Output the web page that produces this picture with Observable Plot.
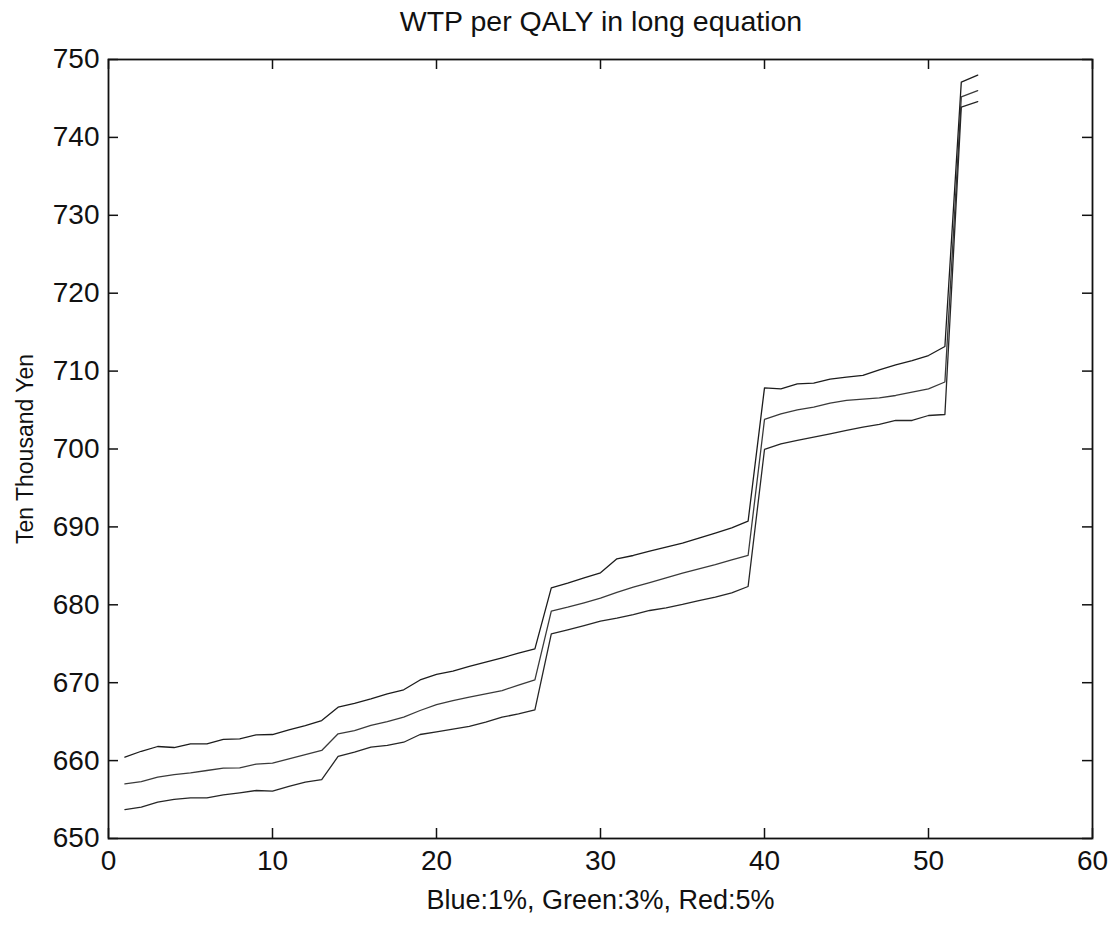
<!DOCTYPE html>
<html>
<head>
<meta charset="utf-8">
<script src="https://cdn.jsdelivr.net/npm/d3@7"></script>
<script src="https://cdn.jsdelivr.net/npm/@observablehq/plot@0.6"></script>
<style>
  body { margin: 0; background: #fff; }
  #wrap { position: relative; width: 1113px; height: 927px; font-family: "Liberation Sans", Arial, Helvetica, sans-serif; }
  #title { position: absolute; left: 601px; top: 4px; transform: translateX(-50%); font-size: 28.5px; line-height: 34px; color: #111; white-space: nowrap; }
  #chart { position: absolute; left: 0; top: 0; }
</style>
</head>
<body>
<div id="wrap">
  <div id="chart"></div>
  <div id="title"></div>
</div>
<script>
const titleText = "WTP per QALY in long equation";
const xLabel = "Blue:1%, Green:3%, Red:5%";
const yLabel = "Ten Thousand Yen";
const xTicks = [0, 10, 20, 30, 40, 50, 60];
const yTicks = [650, 660, 670, 680, 690, 700, 710, 720, 730, 740, 750];
const seriesNames = ["Blue 1%", "Green 3%", "Red 5%"];
const seriesColors = ["#1c1c1c", "#3a3a3a", "#262626"];

const index = d3.range(1, 54);

const topValues = [
  660.44, 661.2, 661.81, 661.68, 662.15, 662.15, 662.72, 662.8, 663.3, 663.35,
  663.94, 664.5, 665.14, 666.85, 667.36, 667.93, 668.57, 669.09, 670.35, 671.07,
  671.48, 672.08, 672.63, 673.2, 673.79, 674.35, 682.18, 682.78, 683.46, 684.1,
  685.9, 686.33, 686.89, 687.41, 687.93, 688.56, 689.2, 689.88, 690.73, 707.85,
  707.72, 708.36, 708.45, 708.96, 709.22, 709.44, 710.17, 710.81, 711.36, 712.0,
  713.16, 747.1, 748.0
];
const midValues = [
  657.01, 657.3, 657.87, 658.21, 658.43, 658.73, 659.03, 659.07, 659.55, 659.67,
  660.23, 660.78, 661.3, 663.44, 663.86, 664.51, 665.0, 665.57, 666.43, 667.18,
  667.7, 668.15, 668.57, 668.99, 669.7, 670.37, 679.2, 679.7, 680.26, 680.85,
  681.6, 682.26, 682.86, 683.46, 684.06, 684.62, 685.17, 685.77, 686.33, 703.79,
  704.52, 705.03, 705.37, 705.89, 706.23, 706.4, 706.57, 706.87, 707.3, 707.73,
  708.6, 745.2, 746.0
];
const lowValues = [
  653.72, 654.02, 654.66, 655.01, 655.22, 655.22, 655.61, 655.87, 656.16, 656.07,
  656.68, 657.23, 657.57, 660.53, 661.08, 661.72, 661.95, 662.36, 663.35, 663.7,
  664.05, 664.38, 664.93, 665.57, 666.0, 666.52, 676.28, 676.79, 677.34, 677.9,
  678.28, 678.75, 679.27, 679.61, 680.04, 680.55, 680.98, 681.54, 682.35, 699.94,
  700.67, 701.1, 701.52, 701.95, 702.38, 702.8, 703.15, 703.66, 703.66, 704.3,
  704.43, 743.9, 744.6
];

const seriesValues = [topValues, midValues, lowValues];
const rows = [];
seriesValues.forEach((vals, s) => {
  vals.forEach((v, i) => rows.push({series: seriesNames[s], x: index[i], y: v}));
});

const W = 1113, H = 927;
const mL = 108, mR = 21, mT = 59, mB = 89;
const frameW = W - mL - mR, frameH = H - mT - mB;
const tickLen = 10;
const font = "Liberation Sans, Arial, Helvetica, sans-serif";

const chart = Plot.plot({
  width: W,
  height: H,
  marginLeft: mL,
  marginRight: mR,
  marginTop: mT,
  marginBottom: mB,
  style: {fontFamily: font, background: "white", color: "#111"},
  x: {domain: [0, 60]},
  y: {domain: [650, 750]},
  color: {domain: seriesNames, range: seriesColors},
  marks: [
    Plot.lineY(rows, {x: "x", y: "y", z: "series", stroke: "series", strokeWidth: 1.3}),
    // inward ticks on all four sides (MATLAB style box)
    Plot.ruleX(xTicks, {x: d => d, insetTop: frameH - tickLen, stroke: "#111", strokeWidth: 1.5}),
    Plot.ruleX(xTicks, {x: d => d, insetBottom: frameH - tickLen, stroke: "#111", strokeWidth: 1.5}),
    Plot.ruleY(yTicks, {y: d => d, insetRight: frameW - tickLen, stroke: "#111", strokeWidth: 1.5}),
    Plot.ruleY(yTicks, {y: d => d, insetLeft: frameW - tickLen, stroke: "#111", strokeWidth: 1.5}),
    Plot.frame({stroke: "#111", strokeWidth: 1.8}),
    Plot.axisX({ticks: xTicks, tickSize: 0, tickPadding: 12, fontSize: 28, label: null, tickFormat: d => String(d), fill: "#111"}),
    Plot.axisY({ticks: yTicks, tickSize: 0, tickPadding: 9, fontSize: 28, label: null, tickFormat: d => String(d), fill: "#111"}),
    Plot.text([xLabel], {text: d => d, frameAnchor: "bottom", lineAnchor: "middle", dy: 62, fontSize: 27, fill: "#111"}),
    Plot.text([yLabel], {text: d => d, frameAnchor: "left", textAnchor: "middle", lineAnchor: "middle", dx: -83, rotate: -90, fontSize: 23, fill: "#111"})
  ]
});
document.getElementById("chart").appendChild(chart);
document.getElementById("title").textContent = titleText;
</script>
</body>
</html>
